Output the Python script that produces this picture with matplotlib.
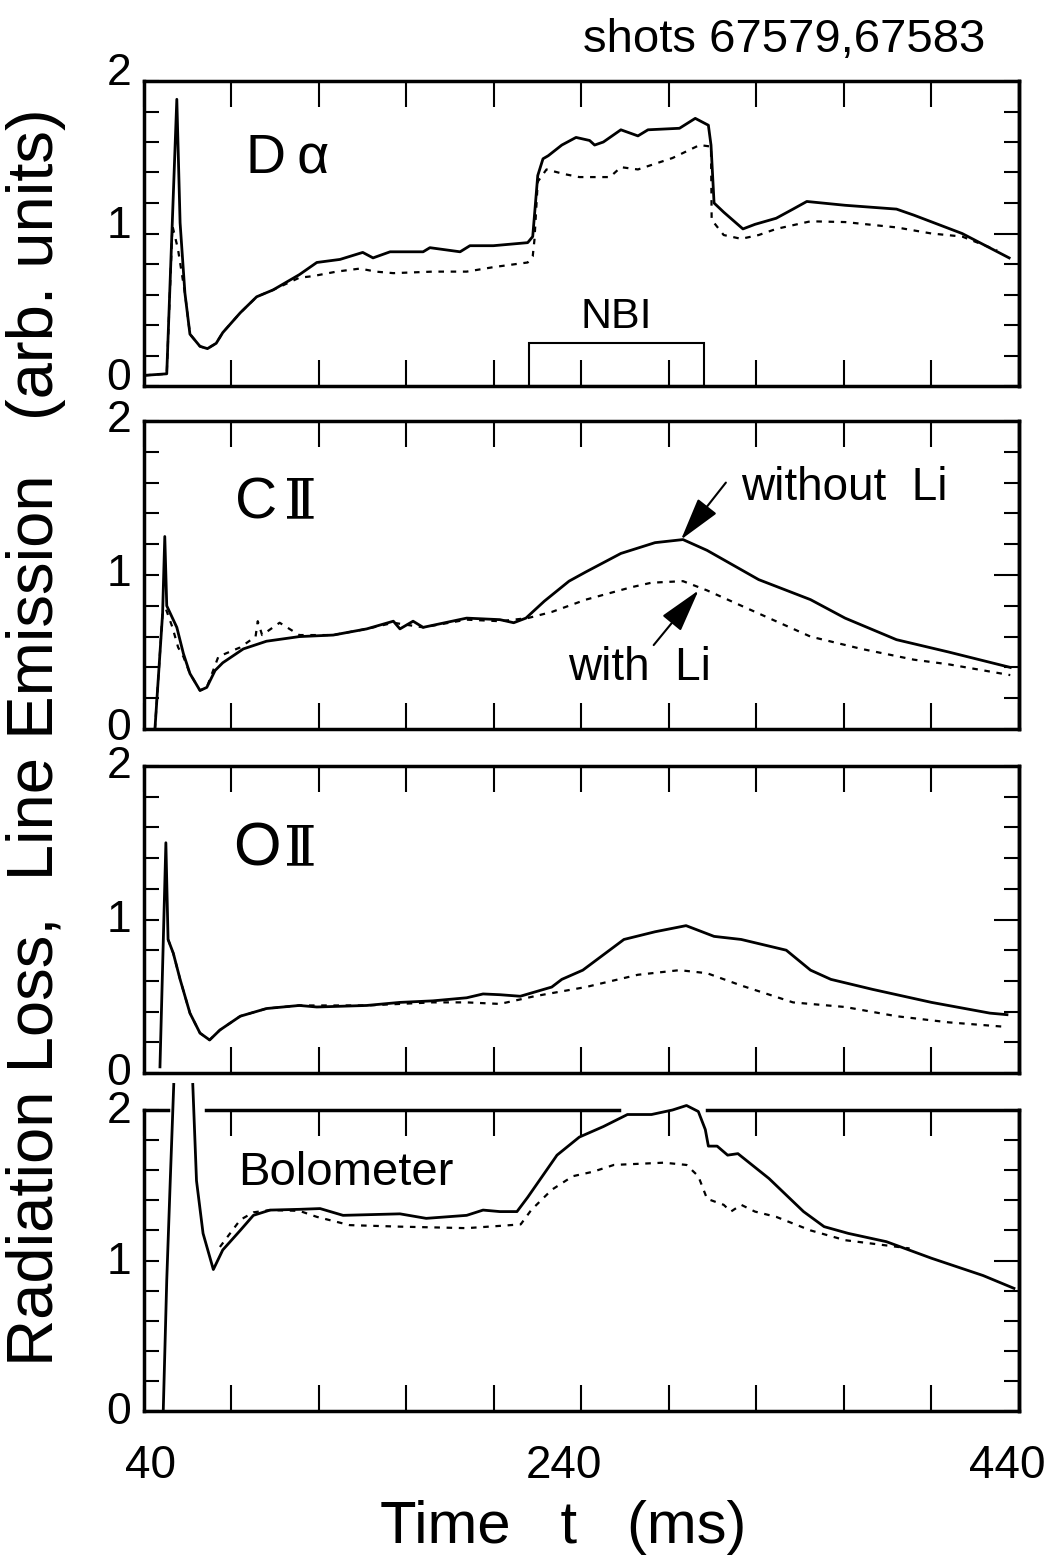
import numpy as np
import matplotlib.pyplot as plt
from matplotlib.ticker import FixedLocator, MultipleLocator
from matplotlib.patches import Rectangle
from matplotlib.transforms import ScaledTranslation

plt.rcParams['font.family'] = ['Liberation Sans', 'DejaVu Sans']

nan = np.nan

# D-alpha
da_t_noli = [40.5, 50.4, 55.0, 56.5, 58.7, 61, 65.6, 69, 73, 76, 84, 91.5, 99, 111, 119, 129.6, 140, 144.7,
             152.5, 167.6, 170.7, 184.5, 189, 199.7, 215.4, 217.7, 220, 222.4, 224.8, 231, 237.5, 243.7,
             246, 250, 258, 265.8, 270.4, 284.8, 292, 298, 299.2, 300.6, 305, 313.8, 319.3, 329, 336.7,
             343, 360.5, 384, 392, 414, 435.5]
da_y_noli = [0.07, 0.08, 1.88, 1.07, 0.61, 0.34, 0.26, 0.245, 0.28, 0.35, 0.48, 0.585, 0.63, 0.73, 0.81, 0.83,
             0.876, 0.84, 0.88, 0.88, 0.907, 0.88, 0.92, 0.92, 0.94, 0.98, 1.38, 1.49, 1.51, 1.58, 1.63, 1.61,
             1.58, 1.60, 1.68, 1.64, 1.68, 1.69, 1.755, 1.71, 1.58, 1.20, 1.14, 1.03, 1.06, 1.10, 1.16,
             1.21, 1.185, 1.16, 1.12, 1.00, 0.84]
da_t_li = [40.5, 50.4, 53.0, 55.5, 58.7, 61, 65.6, 69, 73, 76, 84, 91.5, 99, 111, 117, 128, 138.7, 146, 154,
           172, 187.5, 200, 215.4, 217.7, 218.5, 220, 224, 232, 239, 253, 258, 265.8, 281.6, 294, 299.2,
           299.5, 305, 313, 321, 329, 344.7, 360.5, 384, 400, 414, 430]
da_y_li = [0.07, 0.08, 1.05, 0.9, 0.61, 0.34, 0.26, 0.245, 0.28, 0.35, 0.48, 0.585, 0.63, 0.71, 0.72, 0.75,
           0.77, 0.75, 0.74, 0.75, 0.75, 0.78, 0.81, 0.85, 0.96, 1.34, 1.42, 1.39, 1.37, 1.37, 1.435, 1.42,
           1.495, 1.58, 1.57, 1.09, 0.99, 0.965, 0.99, 1.03, 1.08, 1.075, 1.04, 1.00, 0.98, 0.89]

# C II
c2_t_noli = [45, 48.5, 49.5, 50.4, 55, 58, 61, 65.6, 68.7, 72.5, 76, 85.4, 96, 111, 126.5, 141.8, 154, 157,
             163, 167.6, 187.5, 202.7, 209, 214.6, 223, 234.3, 242, 258, 273.6, 286.4, 297.4, 321, 344.7,
             360.5, 384, 407.8, 436]
c2_y_noli = [0.0, 0.75, 1.25, 0.80, 0.66, 0.49, 0.36, 0.25, 0.27, 0.38, 0.43, 0.52, 0.57, 0.60, 0.61, 0.65,
             0.70, 0.65, 0.70, 0.66, 0.72, 0.71, 0.69, 0.72, 0.83, 0.96, 1.02, 1.14, 1.21, 1.23, 1.16, 0.97,
             0.84, 0.72, 0.58, 0.50, 0.40]
c2_t_li = [45, 48.5, 50, 53, 55.6, 58, 61, 65.6, 68.7, 74, 84, 91, 92, 94, 102, 111, 126.5, 141.8, 154,
           167.6, 187.5, 202.7, 215.4, 226.4, 242, 262.6, 272, 286.4, 297.4, 321, 344.7, 368, 392, 407.8, 436]
c2_y_li = [0.0, 0.75, 0.78, 0.66, 0.53, 0.47, 0.36, 0.25, 0.27, 0.47, 0.53, 0.60, 0.70, 0.61, 0.69, 0.61,
           0.61, 0.65, 0.69, 0.66, 0.71, 0.70, 0.72, 0.76, 0.84, 0.92, 0.95, 0.96, 0.90, 0.75, 0.60, 0.52,
           0.45, 0.42, 0.35]

# O II
o2_t_noli = [47.3, 50, 51, 53.4, 56.5, 61, 65.6, 70, 74.7, 84, 96, 111, 119, 141.8, 157, 172, 187.5, 195,
             202.7, 212, 226.4, 231, 240.6, 259.4, 273.6, 287.8, 300.6, 313, 333.6, 344.7, 354, 373, 400,
             426.7, 434.5]
o2_y_noli = [0.04, 1.50, 0.87, 0.78, 0.61, 0.39, 0.26, 0.215, 0.28, 0.37, 0.42, 0.44, 0.43, 0.44, 0.46, 0.47,
             0.49, 0.515, 0.51, 0.50, 0.56, 0.61, 0.67, 0.87, 0.92, 0.96, 0.89, 0.87, 0.80, 0.67, 0.61, 0.545,
             0.46, 0.39, 0.38]
o2_t_li = [51, 53.4, 56.5, 61, 65.6, 70, 74.7, 84, 96, 111, 141.8, 172, 187.5, 202.7, 218.5, 242, 265.8,
           284.8, 297.4, 313, 336.7, 360.5, 384, 407.8, 434.5]
o2_y_li = [0.87, 0.78, 0.61, 0.39, 0.26, 0.215, 0.28, 0.37, 0.42, 0.44, 0.44, 0.46, 0.46, 0.45, 0.50, 0.56,
           0.64, 0.67, 0.65, 0.57, 0.46, 0.43, 0.37, 0.33, 0.30]

# Bolometer
bo_t_noli = [48.8, 50.4, 52, 53.6, nan, 62.3, 64, 67, 71.7, 76, 84, 90, 97.6, 111, 120.5, 131, 157, 169,
             187.5, 195, 202.7, 210.5, 215.4, 228.8, 239, 250, 261, 272, 281.6, 288, 293.4, 296.6, 298,
             302, 306.8, 311.5, 325.7, 341.5, 350.9, 362, 379.4, 400, 423.6, 437.7]
bo_y_noli = [0.0, 0.87, 1.53, 2.17, nan, 2.17, 1.53, 1.18, 0.94, 1.07, 1.20, 1.30, 1.335, 1.34, 1.345, 1.30,
             1.31, 1.28, 1.30, 1.335, 1.325, 1.325, 1.42, 1.70, 1.82, 1.89, 1.97, 1.97, 2.00, 2.03, 1.99,
             1.87, 1.76, 1.76, 1.70, 1.71, 1.545, 1.325, 1.225, 1.18, 1.125, 1.015, 0.90, 0.815]
bo_t_li = [74.7, 84, 90, 97.6, 111, 119, 134, 157, 187.5, 202.7, 212.2, 217, 226.4, 236, 245.3, 254.8,
           277.7, 288, 293.4, 297.4, 305, 308.3, 313, 319.3, 329, 344.7, 360.5, 379.4, 390]
bo_y_li = [1.09, 1.27, 1.32, 1.335, 1.33, 1.29, 1.235, 1.225, 1.215, 1.23, 1.24, 1.335, 1.47, 1.56, 1.59,
           1.635, 1.65, 1.635, 1.56, 1.41, 1.37, 1.325, 1.37, 1.325, 1.29, 1.20, 1.135, 1.10, 1.08]

nbi_on, nbi_off, nbi_height = 216, 296, 0.28

xticks = list(range(40, 441, 40))
xticklabels = ['40', '', '', '', '', '240', '', '', '', '', '440']
yticks = [0, 1, 2]
yticklabels = ['0', '1', '2']

fig = plt.figure(figsize=(10.49, 15.6), dpi=100)
left, width = 144 / 1049, 875 / 1049
frames = [(81, 386), (421, 729), (766, 1073), (1110, 1411)]
label_lift = [12, 5, 4, 3]   # px the y numbers sit above their ticks

panels = [
    (da_t_noli, da_y_noli, da_t_li, da_y_li),
    (c2_t_noli, c2_y_noli, c2_t_li, c2_y_li),
    (o2_t_noli, o2_y_noli, o2_t_li, o2_y_li),
    (bo_t_noli, bo_y_noli, bo_t_li, bo_y_li),
]

def shift(lbl, dx, dy):
    lbl.set_transform(lbl.get_transform() + ScaledTranslation(dx / 100, dy / 100, fig.dpi_scale_trans))

axes = []
for i, ((top, bot), (t1, y1, t2, y2)) in enumerate(zip(frames, panels)):
    ax = fig.add_axes([left, 1 - bot / 1560, width, (bot - top) / 1560])
    ax.set_xlim(40, 440)
    ax.set_ylim(0, 2)
    ax.plot(t1, y1, color='k', lw=2.0, clip_on=(i != 3), zorder=3)
    ax.plot(t2, y2, color='k', lw=1.6, linestyle=(0, (2.5, 3)), zorder=3)
    for s in ax.spines.values():
        s.set_linewidth(2.5)
    ax.xaxis.set_major_locator(FixedLocator(xticks))
    if i == 3:
        ax.set_xticklabels(xticklabels)
    else:
        ax.set_xticklabels([])
    ax.tick_params(axis='x', which='major', direction='in', top=True, bottom=True,
                   length=19, width=1.5, pad=24, labelsize=33)
    ax.yaxis.set_major_locator(FixedLocator(yticks))
    ax.set_yticklabels(yticklabels)
    ax.yaxis.set_minor_locator(MultipleLocator(0.2))
    ax.tick_params(axis='y', which='both', direction='in', left=True, right=False,
                   length=11, width=1.5, pad=9, labelsize=32)
    for lbl in ax.get_yticklabels():
        shift(lbl, 0, label_lift[i])
    sec = ax.secondary_yaxis('right')
    sec.yaxis.set_major_locator(FixedLocator([1]))
    sec.yaxis.set_minor_locator(MultipleLocator(0.2))
    sec.tick_params(which='major', direction='in', length=18, width=1.5, labelright=False)
    sec.tick_params(which='minor', direction='in', length=11, width=1.5)
    sec.spines['right'].set_linewidth(2.5)
    axes.append(ax)

ax1, ax2, ax3, ax4 = axes

xl = ax4.get_xticklabels()
shift(xl[0], 6, 0)
shift(xl[5], -18, 0)
shift(xl[-1], -12, 0)

ax1.text(86.6, 1.40, 'D\u2009\u03b1', fontsize=40, ha='left', va='baseline')
ax1.add_patch(Rectangle((nbi_on, 0), nbi_off - nbi_on, nbi_height, fill=False, lw=1.5, ec='k'))
ax1.text((nbi_on + nbi_off) / 2, 0.38, 'NBI', fontsize=31, ha='center', va='baseline')

ax2.text(81.6, 1.37, 'C', fontsize=42, ha='left', va='baseline')
ax2.text(104, 1.37, '\u2161', fontsize=40, ha='left', va='baseline', family=['DejaVu Serif'])
ax2.text(313, 1.49, 'without  Li', fontsize=33, ha='left', va='baseline')
ax2.text(234, 0.32, 'with  Li', fontsize=33, ha='left', va='baseline')
arrow = dict(arrowstyle='-|>,head_length=0.9,head_width=0.25', mutation_scale=30,
             lw=1.5, color='k', shrinkA=0, shrinkB=0)
ax2.annotate('', xy=(285.5, 1.23), xytext=(306, 1.60), arrowprops=arrow)
ax2.annotate('', xy=(293.5, 0.90), xytext=(273, 0.545), arrowprops=arrow)

ax3.text(80.7, 1.355, 'O', fontsize=44, ha='left', va='baseline')
ax3.text(104, 1.355, '\u2161', fontsize=40, ha='left', va='baseline', family=['DejaVu Serif'])

ax4.text(83, 1.50, 'Bolometer', fontsize=34, ha='left', va='baseline')
ax4.spines['top'].set_visible(False)
for a, b in [(0, 0.027), (0.071, 0.543), (0.643, 1)]:
    ax4.axhline(2, xmin=a, xmax=b, color='k', lw=2.5, clip_on=False)

fig.text(0.939, 0.9667, 'shots 67579,67583', fontsize=34, ha='right', va='baseline')
fig.text(0.034, 0.5276, 'Radiation Loss,  Line Emission   (arb. units)', fontsize=47,
         rotation=90, ha='center', va='center')
fig.text(0.537, 0.011, 'Time   t   (ms)', fontsize=43, ha='center', va='baseline')

fig.savefig('out.png', dpi=100)
